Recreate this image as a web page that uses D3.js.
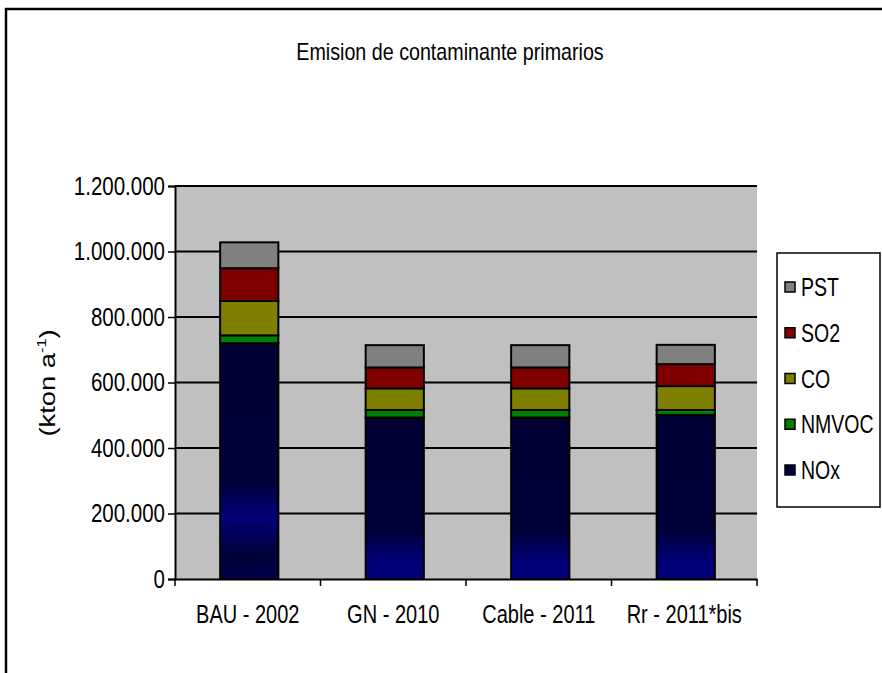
<!DOCTYPE html>
<html>
<head>
<meta charset="utf-8">
<script src="https://cdn.jsdelivr.net/npm/d3@7"></script>
<style>
  body { margin: 0; background: #fff; }
  svg { display: block; }
  .narrow { font-family: "Liberation Sans", Arial, sans-serif; font-size: 25px; fill: #000; }
</style>
</head>
<body>
<div id="chart"></div>
<script>
// chart data
const categories = ['BAU - 2002', 'GN - 2010', 'Cable - 2011', 'Rr - 2011*bis'];
const seriesNames = ['NOx', 'NMVOC', 'CO', 'SO2', 'PST'];
const NOx   = [720000, 493000, 493000, 501000];
const NMVOC = [24000, 23000, 23000, 15000];
const CO    = [105000, 66000, 66000, 73000];
const SO2   = [100000, 64000, 64000, 67000];
const PST   = [79000, 68000, 68000, 59000];
const yTicks = [0, 200000, 400000, 600000, 800000, 1000000, 1200000];

const seriesValues = {NOx, NMVOC, CO, SO2, PST};
const colors = {NMVOC: '#008000', CO: '#808000', SO2: '#800000', PST: '#808080'};
const swatch = {NOx: '#000040', NMVOC: '#008000', CO: '#808000', SO2: '#800000', PST: '#808080'};

const width = 882, height = 673;
const plot = {left: 175, right: 757, top: 186, bottom: 579};

// the reference uses a condensed face; squeeze the regular one to match
function squeeze(sel, factor) {
    sel.each(function() {
        let len = this.getComputedTextLength();
        d3.select(this).attr('textLength', len * factor).attr('lengthAdjust', 'spacingAndGlyphs');
    });
}

// build rows for d3.stack
const rows = categories.map((c, i) => {
    let row = {category: c};
    seriesNames.forEach(k => row[k] = seriesValues[k][i]);
    return row;
});
const stacked = d3.stack().keys(seriesNames)(rows);

const locale = d3.formatLocale({decimal: ',', thousands: '.', grouping: [3], currency: ['', '']});
const fmt = locale.format(',d');

const x = d3.scaleBand().domain(categories).range([plot.left, plot.right]).padding(0);
const y = d3.scaleLinear().domain([0, 1200000]).range([plot.bottom, plot.top]);

const svg = d3.select('#chart').append('svg')
    .attr('width', width)
    .attr('height', height);

// NOx fill: dark navy with a lighter blue glow low in the bar
// (tall bar has the glow higher up and fades again at the bottom)
const defs = svg.append('defs');
const gradStops = {
    tall:  [[0, '#000033'], [0.58, '#000038'], [0.74, '#000078'], [0.89, '#00003a'], [1, '#000048']],
    short: [[0, '#000033'], [0.7, '#000038'], [0.88, '#000075'], [1, '#00007a']]
};
Object.keys(gradStops).forEach(k => {
    let g = defs.append('linearGradient')
        .attr('id', 'nox-' + k)
        .attr('x1', 0).attr('y1', 0).attr('x2', 0).attr('y2', 1);
    gradStops[k].forEach(s => g.append('stop').attr('offset', s[0]).attr('stop-color', s[1]));
});
function fillFor(key, d) {
    if (key !== 'NOx') return colors[key];
    return (d[1] - d[0]) > 600000 ? 'url(#nox-tall)' : 'url(#nox-short)';
}

svg.append('rect').attr('width', width).attr('height', height).attr('fill', '#fff');

// outer chart frame (cut at right and bottom)
svg.append('rect')
    .attr('x', 6).attr('y', 9)
    .attr('width', 920).attr('height', 720)
    .attr('fill', 'none').attr('stroke', '#000').attr('stroke-width', 2.5);

/* ------- plot area + grid ------- */
svg.append('rect')
    .attr('x', plot.left).attr('y', plot.top)
    .attr('width', plot.right - plot.left).attr('height', plot.bottom - plot.top)
    .attr('fill', '#c0c0c0');

svg.append('g')
    .selectAll('line')
    .data(yTicks.filter(d => d > 0))
    .enter()
    .append('line')
    .attr('x1', plot.left).attr('x2', plot.right)
    .attr('y1', d => y(d)).attr('y2', d => y(d))
    .attr('stroke', '#000').attr('stroke-width', 2);

/* ------- bars ------- */
const barW = x.bandwidth() * 0.4;
svg.append('g')
    .selectAll('g')
    .data(stacked)
    .enter()
    .append('g')
    .each(function(s) {
        d3.select(this).selectAll('rect')
            .data(s)
            .enter()
            .append('rect')
            .attr('x', d => x(d.data.category) + (x.bandwidth() - barW) / 2 + 1.5)
            .attr('y', d => y(d[1]))
            .attr('width', barW)
            .attr('height', d => y(d[0]) - y(d[1]))
            .attr('fill', d => fillFor(s.key, d))
            .attr('stroke', '#000')
            .attr('stroke-width', 2);
    });

/* ------- axes ------- */
const yAxis = svg.append('g')
    .attr('transform', 'translate(' + plot.left + ',0)')
    .call(d3.axisLeft(y).tickValues(yTicks).tickFormat(fmt).tickSize(7).tickPadding(3));
yAxis.select('.domain').attr('stroke-width', 2);
yAxis.selectAll('.tick line').attr('stroke-width', 1.5);
yAxis.selectAll('text').attr('class', 'narrow').attr('font-family', null).attr('font-size', null)
    .call(squeeze, 0.82);

const xAxis = svg.append('g')
    .attr('transform', 'translate(0,' + plot.bottom + ')')
    .call(d3.axisBottom(x).tickSize(0).tickPadding(44));
xAxis.select('.domain').attr('stroke-width', 2);
xAxis.selectAll('text').attr('class', 'narrow').attr('font-family', null).attr('font-size', null).attr('dy', null)
    .call(squeeze, 0.8);

// category boundary ticks
svg.append('g')
    .selectAll('line')
    .data(categories.map(c => x(c)).concat([plot.right]))
    .enter()
    .append('line')
    .attr('x1', d => d).attr('x2', d => d)
    .attr('y1', plot.bottom).attr('y2', plot.bottom + 7)
    .attr('stroke', '#000').attr('stroke-width', 1.5);

/* ------- titles ------- */
svg.append('text')
    .attr('class', 'narrow')
    .attr('x', 450).attr('y', 60)
    .attr('text-anchor', 'middle')
    .style('font-size', '24px')
    .text('Emision de contaminante primarios')
    .call(squeeze, 0.82);

const yLabel = svg.append('text')
    .attr('transform', 'translate(55,383) rotate(-90)')
    .attr('text-anchor', 'middle')
    .attr('textLength', 107)
    .attr('lengthAdjust', 'spacingAndGlyphs')
    .style('font-family', '"Liberation Sans", Arial, sans-serif')
    .style('font-size', '22px');
yLabel.append('tspan').text('(kton a');
yLabel.append('tspan').attr('dy', -9).style('font-size', '13px').text('-1');
yLabel.append('tspan').attr('dy', 9).text(')');

/* ------- legend ------- */
const legend = svg.append('g');
legend.append('rect')
    .attr('x', 777).attr('y', 253).attr('width', 103).attr('height', 254)
    .attr('fill', '#fff').attr('stroke', '#000').attr('stroke-width', 1.5);

const legendOrder = seriesNames.slice().reverse();
const ly = d3.scalePoint().domain(legendOrder).range([287, 470]);
const items = legend.selectAll('g.item')
    .data(legendOrder)
    .enter()
    .append('g')
    .attr('class', 'item')
    .attr('transform', d => 'translate(785,' + ly(d) + ')');
items.append('rect')
    .attr('x', 0).attr('y', -5).attr('width', 10).attr('height', 10)
    .attr('fill', d => swatch[d]).attr('stroke', '#000').attr('stroke-width', 1.5);
items.append('text')
    .attr('class', 'narrow')
    .attr('x', 16).attr('y', 9)
    .text(d => d)
    .call(squeeze, 0.78);
</script>
</body>
</html>
